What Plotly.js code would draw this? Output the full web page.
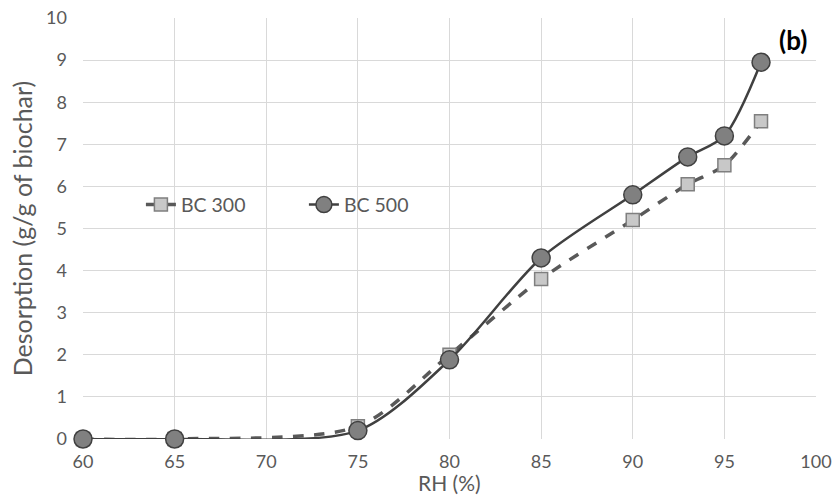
<!DOCTYPE html>
<html><head><meta charset="utf-8">
<script src="https://cdn.plot.ly/plotly-3.0.1.min.js"></script>
<style>html,body{margin:0;padding:0;background:#fff;}#chart{width:835px;height:502px;}</style>
</head><body><div id="chart"></div>
<script>
const rh = [60, 65, 75, 80, 85, 90, 93, 95, 97];
const bc300 = [0, 0, 0.3, 2.0, 3.8, 5.2, 6.05, 6.5, 7.55];
const bc500 = [0, 0, 0.2, 1.88, 4.3, 5.8, 6.7, 7.2, 8.95];
const xTicks = [60, 65, 70, 75, 80, 85, 90, 95, 100];
const yTicks = [0,1,2,3,4,5,6,7,8,9,10];
const fontFam = 'Lato, "Open Sans", sans-serif';
const traces = [
  {x: rh, y: bc300, name: 'BC 300', type: 'scatter', mode: 'lines+markers', cliponaxis: false,
   line: {color: '#595959', width: 3.5, dash: 'dash', shape: 'spline', smoothing: 0.8},
   marker: {symbol: 'square', size: 13, color: '#c8c8c8', line: {color: '#7f7f7f', width: 1.5}}},
  {x: rh, y: bc500, name: 'BC 500', type: 'scatter', mode: 'lines+markers', cliponaxis: false,
   line: {color: '#404040', width: 2.5, shape: 'spline', smoothing: 0.8},
   marker: {symbol: 'circle', size: 18, color: '#808080', line: {color: '#404040', width: 1.5}}}
];
const layout = {
  width: 835, height: 502,
  margin: {l: 83, r: 19, t: 18, b: 62.5},
  paper_bgcolor: '#fff', plot_bgcolor: '#fff',
  font: {family: fontFam, color: '#595959', size: 18},
  showlegend: true,
  legend: {orientation: 'h', x: 0.079, y: 0.556, xanchor: 'left', yanchor: 'middle',
    bgcolor: 'rgba(255,255,255,0)', font: {size: 19.5, color: '#595959'}, entrywidth: 118},
  xaxis: {range: [60, 100], tickvals: xTicks, ticktext: xTicks.map(String),
    showgrid: true, gridcolor: '#d9d9d9', gridwidth: 1, zeroline: false,
    showline: false, ticks: '', ticklabelstandoff: 10, ticklabeloverflow: 'allow',
    tickfont: {size: 18, color: '#595959'}},
  yaxis: {range: [0, 10], tickvals: yTicks, ticktext: yTicks.map(String),
    showgrid: true, gridcolor: '#d9d9d9', gridwidth: 1, zeroline: false,
    showline: false, ticks: '', ticklabelstandoff: 15, ticklabeloverflow: 'allow',
    tickfont: {size: 18, color: '#595959'},
    title: {text: 'Desorption (g/g of biochar)', font: {size: 25, color: '#595959'}, standoff: 6}},
  annotations: [
    {text: '<b>(b)</b>', xref: 'paper', yref: 'paper', x: 0.99, y: 0.948,
     xanchor: 'right', yanchor: 'middle', showarrow: false,
     font: {size: 26, color: '#000', family: fontFam}},
    {text: 'RH (%)', xref: 'paper', yref: 'paper', x: 0.5, y: -0.103,
     xanchor: 'center', yanchor: 'middle', showarrow: false,
     font: {size: 21, color: '#595959', family: fontFam}}
  ]
};
Plotly.newPlot('chart', traces, layout, {displayModeBar: false, staticPlot: true});
</script></body></html>
